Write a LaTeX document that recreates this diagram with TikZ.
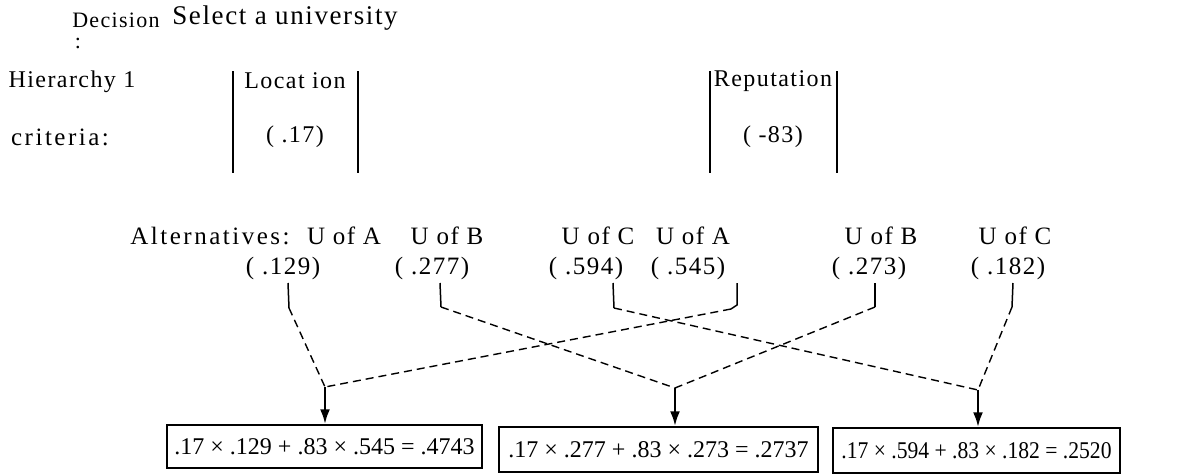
\documentclass[tikz,border=0pt]{standalone}
\usepackage{fontspec}
\setmainfont{Liberation Serif}
\newfontfamily\spaced[LetterSpace=6]{Liberation Serif}
\newfontfamily\wspaced[LetterSpace=10]{Liberation Serif}
\newfontfamily\narrow[FakeStretch=0.9]{Liberation Serif}
\usetikzlibrary{arrows.meta}
\begin{document}
\begin{tikzpicture}[x=1pt,y=-1pt,
  lbl/.style={inner sep=0pt, font=\spaced\fontsize{24}{28}\selectfont},
  alt/.style={inner sep=0pt, font=\spaced\fontsize{25}{28}\selectfont},
  bar/.style={line width=2pt},
  stem/.style={line width=1.5pt},
  dsh/.style={line width=1.4pt, dash pattern=on 8pt off 5pt},
  arr/.style={line width=2.6pt, -{Latex[length=15pt,width=10pt]}},
  res/.style={draw, line width=1.5pt, inner sep=0pt, font=\fontsize{24}{26}\selectfont}
]
\useasboundingbox (0,0) rectangle (1203,474);
% top
\node[inner sep=0pt, anchor=base, font=\spaced\fontsize{22}{24}\selectfont] (dec) at (116,27) {Decision};
\node[inner sep=0pt, anchor=base, font=\fontsize{22}{24}\selectfont] (colon) at (78,48) {:};
\node[inner sep=0pt, font=\spaced\fontsize{27}{30}\selectfont] (sel) at (285,18) {Select a university};
% hierarchy
\node[lbl] (hier) at (72,82) {Hierarchy 1};
\node[inner sep=0pt, font=\wspaced\fontsize{25}{28}\selectfont] (crit) at (60,137) {criteria:};
\draw[bar] (233,71) -- (233,173);
\draw[bar] (358,71) -- (358,173);
\draw[bar] (710,71) -- (710,173);
\draw[bar] (837,71) -- (837,173);
\node[lbl] (loc) at (295,81) {Locat ion};
\node[lbl] (locw) at (295,137) {( .17)};
\node[lbl] (rep) at (773,81) {Reputation};
\node[lbl] (repw) at (773,137) {( -83)};
% alternatives
\node[inner sep=0pt, font=\wspaced\fontsize{25}{28}\selectfont] (altl) at (210,236) {Alternatives:};
\node[alt] (a1) at (344,236) {U of A};
\node[alt] (b1) at (447,236) {U of B};
\node[alt] (c1) at (598,236) {U of C};
\node[alt] (a2) at (693,236) {U of A};
\node[alt] (b2) at (881,236) {U of B};
\node[alt] (c2) at (1015,236) {U of C};
\node[alt] (na1) at (283,268) {( .129)};
\node[alt] (nb1) at (432,268) {( .277)};
\node[alt] (nc1) at (586,268) {( .594)};
\node[alt] (na2) at (688,268) {( .545)};
\node[alt] (nb2) at (869,268) {( .273)};
\node[alt] (nc2) at (1008,268) {( .182)};
% result boxes
\node[res, minimum width=315pt, minimum height=43pt] (r1) at (324.5,446.5) {.17 × .129 + .83 × .545 = .4743};
\node[res, minimum width=319pt, minimum height=45pt] (r2) at (658.5,449.5) {.17 × .277 + .83 × .273 = .2737};
\node[res, minimum width=287pt, minimum height=45pt, font=\narrow\fontsize{24}{26}\selectfont] (r3) at (976.5,450.5) {.17 × .594 + .83 × .182 = .2520};
% bend coordinates
\coordinate (s1) at (288,283); \coordinate (k1) at (289,308);
\coordinate (s2) at (440,283); \coordinate (k2) at (441,307);
\coordinate (s3) at (613,283); \coordinate (k3) at (614,308);
\coordinate (s4) at (737,283); \coordinate (k4) at (737,305); \coordinate (h4) at (731,309);
\coordinate (s5) at (875,283); \coordinate (k5) at (875,307);
\coordinate (s6) at (1013,283); \coordinate (k6) at (1012,307);
\coordinate (j1) at (325,387);
\coordinate (j2) at (675,388);
\coordinate (j3) at (978,390);
% connectors
\draw[stem] (s1) -- (k1);
\draw[dsh] (k1) -- (j1);
\draw[stem] (s2) -- (k2);
\draw[dsh] (k2) -- (j2);
\draw[stem] (s3) -- (k3);
\draw[dsh] (k3) -- (j3);
\draw[stem] (s4) -- (k4) -- (h4);
\draw[dsh] (h4) -- (j1);
\draw[stem] (s5) -- (k5);
\draw[dsh] (k5) -- (j2);
\draw[stem] (s6) -- (k6);
\draw[dsh] (k6) -- (j3);
\draw[arr] (j1) -- (j1 |- r1.north);
\draw[arr] (j2) -- (j2 |- r2.north);
\draw[arr] (j3) -- (j3 |- r3.north);
\end{tikzpicture}
\end{document}
